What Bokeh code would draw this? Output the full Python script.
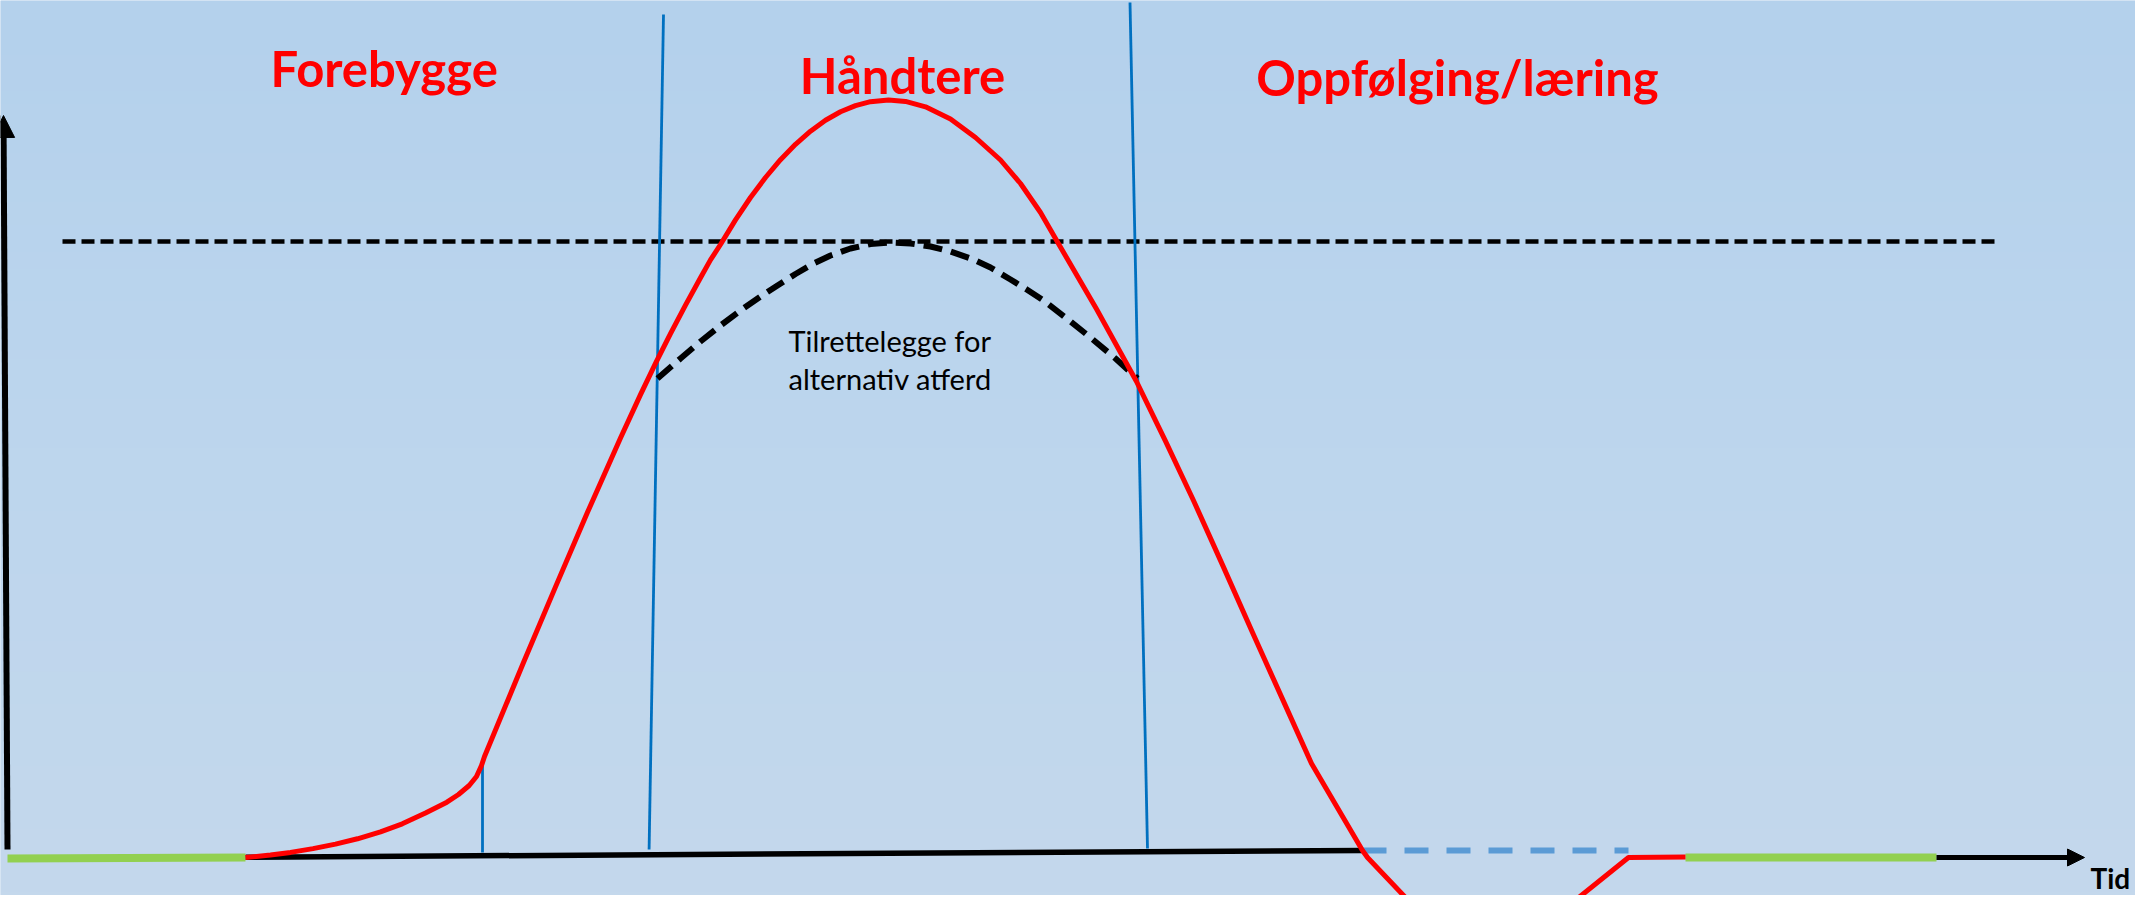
import numpy as np
from bokeh.plotting import figure
from bokeh.models import Range1d, Arrow, NormalHead
from bokeh.core.properties import value
from bokeh.embed import file_html
from bokeh.resources import INLINE

# ---- data: time (t) and level (L, 0 = baseline) ----
# red escalation curve
red_t = [245, 270, 290, 312.5, 335, 357, 380, 401.8, 425, 446.4, 458, 468.7, 476, 481, 484,
         523, 555, 587, 620, 640, 655, 670, 685, 700, 710, 720, 735, 750, 765, 780, 795,
         810, 825, 840, 855, 870, 888, 905, 925, 950, 975, 1000, 1020, 1040, 1057, 1096,
         1136, 1165, 1193, 1222, 1252, 1281, 1311, 1362, 1367, 1480, 1628, 1685]
red_level = [0, 2.5, 5.1, 8.9, 13.4, 18.7, 25.6, 33.7, 44.5, 55.3, 63, 72, 81, 92, 101,
             195, 270.6, 345.2, 419.5, 462.9, 494.1, 523.8, 552.3, 579.8, 597.6, 613, 637.6,
             660, 680, 697.8, 713.2, 726.3, 737.2, 745.7, 751.9, 755.8, 757.5, 756.1, 750.7,
             738.5, 720, 697.5, 674, 645, 615.5, 548.4, 476, 416.4, 357, 292.6, 225, 160.6,
             94, 7, 0, -119, 0, 0.5]

# black dashed "alternative behaviour" curve
alt_t = [657, 680, 700, 720, 740, 760, 777, 795, 813, 830, 850, 870, 888, 910, 930, 950,
         973, 990, 1010, 1027, 1043, 1065, 1090, 1115, 1137]
alt_level = [479, 499, 516, 532, 547, 561, 572, 583.5, 594, 602, 609, 613.5, 615, 614, 611,
             606, 598, 590, 578, 567.5, 557, 540, 520, 499, 479]

# threshold line
thr_t = [62, 1994]
thr_level = [616, 616]

# phase separators (blue)
sep1_t, sep1_level = [663, 648.6], [843, 8]
sep2_t, sep2_level = [1129.5, 1147], [855, 9]
sep0_t, sep0_level = [482, 482], [92, 5]

# baseline pieces
green1_t, green1_level = [7, 245], [-1, 0]
green2_t, green2_level = [1685, 1936], [0, 0]
base_t, base_level = [245, 1362], [0.3, 7]
gap_t, gap_level = [1362, 1628], [7, 7]
xaxis_t, xaxis_level = [1936, 2084], [0, 0]
yaxis_t, yaxis_level = [7, 3], [8, 742]

# labels
phase_labels = ["Forebygge", "Håndtere", "Oppfølging/læring"]
phase_t = [383.7, 902, 1457]
phase_level = [790, 783, 781]
note_lines = ["Tilrettelegge for", "alternativ atferd"]
note_t = [788, 788]
note_level = [517, 479.5]
time_label = "Tid"
time_t, time_level = 2090, -20

# background gradient stops (top -> bottom)
bg_pos = [0.0, 0.5, 1.0]
bg_col = ["#B4D1EC", "#BDD6EE", "#C4D8EC"]

T0, T1 = 0, 2135
L0, L1 = -38, 857

p = figure(width=2135, height=895, x_range=Range1d(T0, T1), y_range=Range1d(L0, L1),
           output_backend="svg", toolbar_location=None, min_border=0)
p.axis.visible = False
p.grid.visible = False
p.outline_line_color = None
p.background_fill_color = "#BDD6EE"
p.border_fill_color = "#BDD6EE"

# gradient background
n = 200
frac = np.linspace(1, 0, n)  # row 0 = bottom
def hex2rgb(h):
    return [int(h[i:i + 2], 16) for i in (1, 3, 5)]
cols = np.array([hex2rgb(c) for c in bg_col], dtype=float)
img = np.empty((n, 1), dtype=np.uint32)
view = img.view(dtype=np.uint8).reshape((n, 1, 4))
for ch in range(3):
    view[:, 0, ch] = np.interp(frac, bg_pos, cols[:, ch]).astype(np.uint8)
view[:, 0, 3] = 255
p.image_rgba(image=[img], x=T0, y=L0, dw=T1 - T0, dh=L1 - L0)

# threshold dashed
p.line(thr_t, thr_level, line_color="black", line_width=4.5, line_dash="13 6")

# separators
for st, sl in [(sep1_t, sep1_level), (sep2_t, sep2_level), (sep0_t, sep0_level)]:
    p.line(st, sl, line_color="#0070C0", line_width=2.8)

# baseline
p.line(base_t, base_level, line_color="black", line_width=5.5)
p.line(gap_t, gap_level, line_color="#5B9BD5", line_width=6, line_dash="24 18")
p.line(green1_t, green1_level, line_color="#92D050", line_width=8)
p.line(green2_t, green2_level, line_color="#92D050", line_width=8)

# axes arrows
p.add_layout(Arrow(end=NormalHead(size=17, fill_color="black", line_color="black"),
                   x_start=xaxis_t[0], y_start=xaxis_level[0], x_end=xaxis_t[1], y_end=xaxis_level[1],
                   line_color="black", line_width=5))
p.add_layout(Arrow(end=NormalHead(size=22, fill_color="black", line_color="black"),
                   x_start=yaxis_t[0], y_start=yaxis_level[0], x_end=yaxis_t[1], y_end=yaxis_level[1],
                   line_color="black", line_width=6))

# curves
p.line(alt_t, alt_level, line_color="black", line_width=6, line_dash="19 9")
p.line(red_t, red_level, line_color="#FF0000", line_width=5, line_join="round")

# texts
p.text(x=phase_t, y=phase_level, text=phase_labels, text_font=value("Lato"),
       text_font_size="49px", text_font_style="bold", text_color="#FF0000",
       text_align="center", text_baseline="alphabetic")
p.text(x=note_t, y=note_level, text=note_lines, text_font=value("Lato"),
       text_font_size="29px", text_color="black", text_align="left", text_baseline="alphabetic")
p.text(x=[time_t], y=[time_level], text=[time_label], text_font=value("Lato"),
       text_font_size="28px", text_font_style="bold", text_color="black",
       text_align="left", text_baseline="alphabetic")

open("out.html", "w").write(file_html(p, INLINE))
